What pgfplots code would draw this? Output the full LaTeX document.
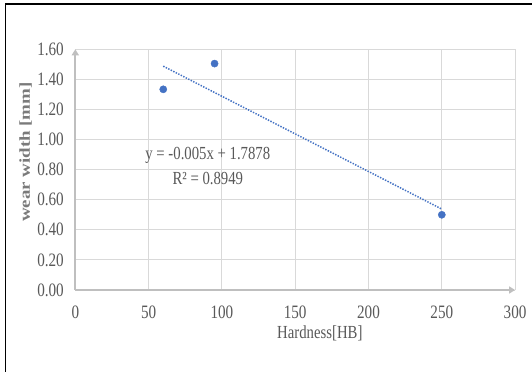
\documentclass[border=0pt]{standalone}
\usepackage{fontspec}
\setmainfont{Liberation Serif}
\newfontfamily\narrowfont[FakeStretch=0.8]{Liberation Serif}
\usepackage{pgfplots}
\pgfplotsset{compat=1.18}
\usetikzlibrary{arrows.meta}
\definecolor{excelblue}{HTML}{4472C4}
\definecolor{gridgray}{HTML}{D9D9D9}
\definecolor{axisgray}{HTML}{BFBFBF}
\definecolor{txtgray}{HTML}{595959}

\pgfplotstableread{
x y
60 1.334
95 1.505
250 0.500
}\datatable

\begin{document}
\begin{tikzpicture}
\useasboundingbox (0bp,0bp) rectangle (532bp,372bp);
\fill[white] (0bp,0bp) rectangle (532bp,372bp);
\draw[black, line width=1.6bp] (5.3bp,0bp) -- (5.3bp,367.7bp) -- (532bp,367.7bp);
\begin{axis}[
  at={(75.3bp,82bp)}, anchor=south west,
  scale only axis, width=439.8bp, height=240.7bp,
  xmin=0, xmax=300, ymin=0, ymax=1.6,
  axis lines=left,
  axis line style={draw=axisgray, line width=1.8bp, -{Triangle[length=6bp,width=7bp]}},
  xtick={0,50,...,300},
  ytick={0,0.2,0.4,0.6,0.8,1.0,1.2,1.4,1.6},
  major tick length=0pt,
  tick style={draw=none},
  grid=major,
  major grid style={draw=gridgray, line width=0.9bp},
  /pgf/number format/assume math mode=true,
  yticklabel style={/pgf/number format/.cd, fixed, fixed zerofill, precision=2, /tikz/.cd, xshift=-8bp},
  xticklabel style={/pgf/number format/.cd, fixed, precision=0, /tikz/.cd, yshift=-12bp},
  ticklabel style={font=\narrowfont\fontsize{19}{20}\selectfont, text=txtgray},
  xlabel={Hardness[HB]},
  xlabel style={font=\narrowfont\fontsize{18.5}{20}\selectfont, text=txtgray, at={(axis description cs:0.556,-0.179)}, anchor=center},
  ylabel={\scalebox{1}[0.8]{wear width [mm]}},
  ylabel style={font=\fontsize{19}{20}\selectfont\bfseries, text=txtgray!80, at={(axis description cs:-0.113,0.573)}, anchor=center},
  clip=false,
]
\addplot[excelblue, line width=1.5bp, dash pattern=on 1.4bp off 1.4bp] coordinates {(60,1.4878) (250,0.5378)};
\addplot[only marks, mark=*, mark size=3.6bp, mark options={fill=excelblue, draw=excelblue}] table[x=x,y=y] {\datatable};
\node[font=\narrowfont\fontsize{18.5}{20}\selectfont, text=txtgray, anchor=center] at (axis cs:90.4,0.893) {y = -0.005x + 1.7878};
\node[font=\narrowfont\fontsize{18.5}{20}\selectfont, text=txtgray, anchor=center] at (axis cs:90.4,0.744) {R² = 0.8949};
\end{axis}
\end{tikzpicture}
\end{document}
